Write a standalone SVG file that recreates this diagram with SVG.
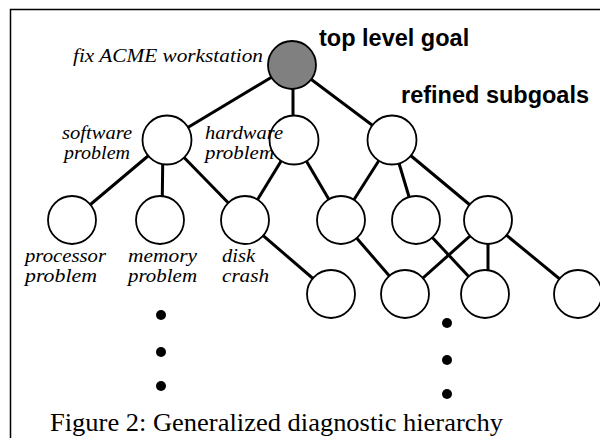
<svg xmlns="http://www.w3.org/2000/svg" width="600" height="438" viewBox="0 0 600 438">
<style>
.n{fill:#fff;stroke:#000;stroke-width:1.8}
.g{fill:#808080;stroke:#000;stroke-width:1.8}
.e line{stroke:#000;stroke-width:3}
.it{font-family:"Liberation Serif",serif;font-style:italic;font-size:19px;fill:#000}
.b{font-family:"Liberation Sans",Arial,sans-serif;font-weight:bold;font-size:23.5px;fill:#000}
.cap{font-family:"Liberation Serif",serif;font-size:26px;fill:#000}
.dot{fill:#000}
</style>
<rect width="600" height="438" fill="#fff"/>
<path d="M10.5 438V9.5H600" fill="none" stroke="#000" stroke-width="1.5"/>
<g id="connectors" class="e">
<line x1="292" y1="65" x2="167" y2="140"/>
<line x1="293" y1="65" x2="293" y2="140"/>
<line x1="292" y1="65" x2="392" y2="140"/>
<line x1="167" y1="140" x2="72" y2="220"/>
<line x1="163" y1="140" x2="162" y2="220"/>
<line x1="167" y1="140" x2="245" y2="220"/>
<line x1="294" y1="140" x2="245" y2="220"/>
<line x1="294" y1="140" x2="341" y2="220"/>
<line x1="392" y1="140" x2="341" y2="220"/>
<line x1="392" y1="140" x2="416" y2="220"/>
<line x1="392" y1="140" x2="488" y2="220"/>
<line x1="245" y1="220" x2="331" y2="294"/>
<line x1="341" y1="220" x2="405" y2="294"/>
<line x1="416" y1="220" x2="485" y2="294"/>
<line x1="488" y1="220" x2="405" y2="294"/>
<line x1="488" y1="220" x2="488" y2="294"/>
<line x1="488" y1="220" x2="578" y2="294"/>
</g>
<g id="top"><circle class="g" cx="292" cy="65" r="24"/></g>
<g id="software"><circle class="n" cx="167" cy="140" r="24.5"/></g>
<g id="hardware"><circle class="n" cx="294" cy="140" r="24.5"/></g>
<g id="sub3"><circle class="n" cx="392" cy="140" r="24.5"/></g>
<g id="processor"><circle class="n" cx="72" cy="220" r="24"/></g>
<g id="memory"><circle class="n" cx="160" cy="220" r="24"/></g>
<g id="disk"><circle class="n" cx="245" cy="220" r="24"/></g>
<g id="n3a"><circle class="n" cx="341" cy="220" r="24"/></g>
<g id="n3b"><circle class="n" cx="416" cy="220" r="24"/></g>
<g id="n3c"><circle class="n" cx="488" cy="220" r="24"/></g>
<g id="n4a"><circle class="n" cx="331" cy="294" r="24"/></g>
<g id="n4b"><circle class="n" cx="405" cy="294" r="24"/></g>
<g id="n4c"><circle class="n" cx="485" cy="294" r="24"/></g>
<g id="n4d"><circle class="n" cx="578" cy="294" r="24"/></g>
<g id="dots">
<circle class="dot" cx="161" cy="315" r="5"/>
<circle class="dot" cx="161" cy="352" r="5"/>
<circle class="dot" cx="161" cy="386" r="5"/>
<circle class="dot" cx="447" cy="323" r="5"/>
<circle class="dot" cx="447" cy="360" r="5"/>
<circle class="dot" cx="447" cy="394" r="5"/>
</g>
<g id="labels">
<text class="it" x="73" y="62" textLength="190" lengthAdjust="spacingAndGlyphs">fix ACME workstation</text>
<text class="b" x="319" y="46">top level goal</text>
<text class="b" x="401" y="103">refined subgoals</text>
<text class="it" x="62" y="139" textLength="70" lengthAdjust="spacingAndGlyphs">software</text>
<text class="it" x="64" y="159" textLength="66" lengthAdjust="spacingAndGlyphs">problem</text>
<text class="it" x="205" y="139" textLength="78" lengthAdjust="spacingAndGlyphs">hardware</text>
<text class="it" x="205" y="159" textLength="69" lengthAdjust="spacingAndGlyphs">problem</text>
<text class="it" x="25" y="262" textLength="81" lengthAdjust="spacingAndGlyphs">processor</text>
<text class="it" x="25" y="282" textLength="72" lengthAdjust="spacingAndGlyphs">problem</text>
<text class="it" x="128" y="262" textLength="69" lengthAdjust="spacingAndGlyphs">memory</text>
<text class="it" x="128" y="282" textLength="69" lengthAdjust="spacingAndGlyphs">problem</text>
<text class="it" x="222" y="262" textLength="33" lengthAdjust="spacingAndGlyphs">disk</text>
<text class="it" x="222" y="282" textLength="47" lengthAdjust="spacingAndGlyphs">crash</text>
<text class="cap" x="50" y="431" textLength="453" lengthAdjust="spacingAndGlyphs">Figure 2: Generalized diagnostic hierarchy</text>
</g>
</svg>
